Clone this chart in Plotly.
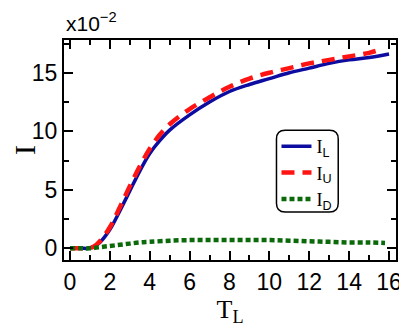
import plotly.graph_objs as go

# Data (I in units of 1e-2)
t_l = [0.0, 0.3, 0.6, 0.9, 1.2, 1.5, 2.0, 2.5, 3.0, 3.5, 4.0, 4.5, 5.0,
       6.0, 7.0, 8.0, 9.0, 10.0, 11.0, 12.0, 13.0, 14.0, 15.0, 16.0]
i_l = [0.0, 0.0, 0.0, 0.0, 0.15, 0.5, 1.6, 3.2, 4.9, 6.6, 8.1, 9.2, 10.1,
       11.4, 12.5, 13.4, 14.0, 14.5, 15.0, 15.4, 15.8, 16.1, 16.3, 16.6]

t_u = [0.0, 0.3, 0.6, 0.9, 1.2, 1.5, 2.0, 2.5, 3.0, 3.5, 4.0, 4.5, 5.0,
       6.0, 7.0, 8.0, 9.0, 10.0, 11.0, 12.0, 13.0, 14.0, 15.0, 15.4]
i_u = [0.0, 0.0, 0.0, 0.0, 0.15, 0.6, 1.8, 3.5, 5.3, 7.0, 8.5, 9.7, 10.6,
       11.9, 12.9, 13.8, 14.5, 15.0, 15.4, 15.8, 16.1, 16.4, 16.7, 16.9]

t_d = [0.0, 0.5, 1.0, 1.5, 2.0, 2.5, 3.0, 3.5, 4.0, 5.0, 6.0, 7.0, 8.0,
       9.0, 10.0, 11.0, 12.0, 13.0, 14.0, 15.0, 15.8]
i_d = [0.0, 0.0, 0.0, 0.1, 0.2, 0.3, 0.4, 0.5, 0.55, 0.65, 0.7, 0.7, 0.7,
       0.7, 0.7, 0.65, 0.6, 0.55, 0.5, 0.5, 0.45]

x_ticks = [0, 2, 4, 6, 8, 10, 12, 14, 16]
y_ticks = [0, 5, 10, 15]

sans_sub = "<sub><span style='font-family:Liberation Sans'>{}</span></sub>"

fig = go.Figure()

fig.add_trace(go.Scatter(
    x=t_l, y=i_l, mode='lines', name='I' + sans_sub.format('L'),
    line=dict(color='#0c0ca0', width=3.5, shape='spline')
))
fig.add_trace(go.Scatter(
    x=t_u, y=i_u, mode='lines', name='I' + sans_sub.format('U'),
    line=dict(color='#ff1414', width=4.5, dash='13px,8px', shape='spline')
))
fig.add_trace(go.Scatter(
    x=t_d, y=i_d, mode='lines', name='I' + sans_sub.format('D'),
    line=dict(color='#0a6a0a', width=4.5, dash='5px,3px', shape='spline')
))

# Rounded legend frame
x0, x1, y0, y1 = 0.64, 0.826, 0.218, 0.59
rx, ry = 0.026, 0.04
path = (f"M {x0 + rx},{y0} L {x1 - rx},{y0} Q {x1},{y0} {x1},{y0 + ry} "
        f"L {x1},{y1 - ry} Q {x1},{y1} {x1 - rx},{y1} "
        f"L {x0 + rx},{y1} Q {x0},{y1} {x0},{y1 - ry} "
        f"L {x0},{y0 + ry} Q {x0},{y0} {x0 + rx},{y0} Z")
fig.add_shape(type='path', path=path, xref='paper', yref='paper',
              line=dict(color='black', width=1.5), fillcolor='white', layer='above')

fig.add_annotation(
    x=0.0, y=1.15, xref='paper', yref='paper', xanchor='left', yanchor='top',
    text='x10<sup>−2</sup>', showarrow=False,
    font=dict(family='Liberation Sans', size=21, color='black')
)

axis_common = dict(
    showline=True, linecolor='black', linewidth=2, mirror='allticks',
    ticks='inside', tickcolor='black', tickwidth=2, ticklen=9,
    showgrid=False, zeroline=False, automargin=False,
    tickfont=dict(family='Liberation Sans', size=23, color='black'),
)

fig.update_xaxes(
    range=[-0.3, 16.35], tickvals=x_ticks,
    minor=dict(dtick=1, tick0=1, ticks='inside', ticklen=5, tickwidth=2, tickcolor='black'),
    title=dict(text='T<sub>L</sub>', font=dict(family='Liberation Serif', size=26, color='black'),
               standoff=6),
    **axis_common
)
fig.update_yaxes(
    range=[-1.0, 17.8], tickvals=y_ticks,
    minor=dict(dtick=2.5, tick0=0, ticks='inside', ticklen=5, tickwidth=2, tickcolor='black'),
    title=dict(text='I', font=dict(family='Liberation Serif', size=30, color='black'),
               standoff=22),
    **axis_common
)

# page body adds an 8px offset, so the figure is sized to fit inside it
fig.update_layout(
    width=399, height=324,
    plot_bgcolor='white', paper_bgcolor='white',
    margin=dict(l=56, r=11, t=32, b=72),
    showlegend=True,
    legend=dict(
        x=0.64, y=0.6, xanchor='left', yanchor='top',
        bgcolor='rgba(0,0,0,0)', borderwidth=0,
        font=dict(family='Liberation Serif', size=18, color='black'),
        tracegroupgap=0, itemwidth=30
    ),
)

fig.write_html("out.html")
